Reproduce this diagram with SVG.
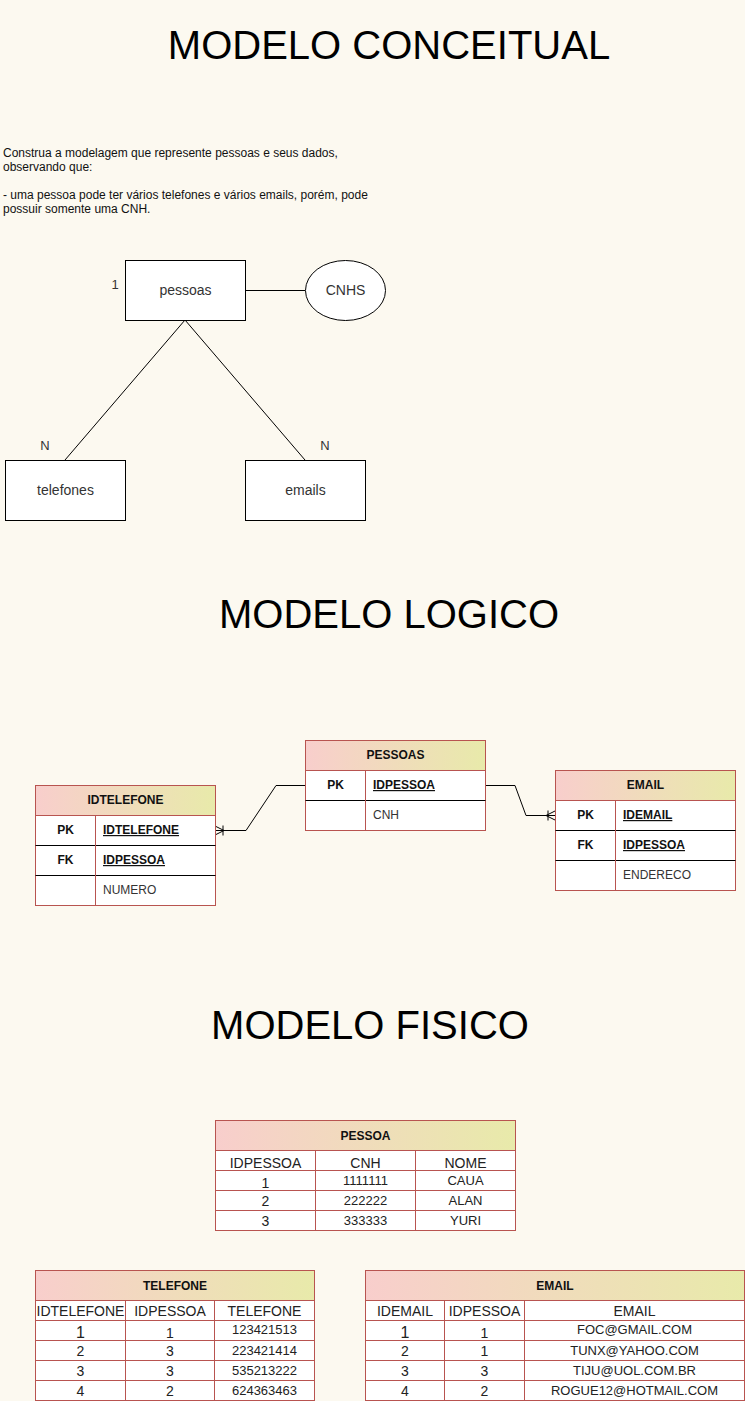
<svg xmlns="http://www.w3.org/2000/svg" width="745" height="1401" viewBox="0 0 745 1401">
<defs>
<linearGradient id="hdr" x1="0" y1="0" x2="1" y2="0"><stop offset="0" stop-color="#f8cecc"/><stop offset="1" stop-color="#e8eaaa"/></linearGradient>
<style>
text{font-family:"Liberation Sans",Arial,sans-serif}
.title{font-size:40px;fill:#000;text-anchor:middle}
.para{font-size:12px;fill:#111}
.ent{fill:#fff;stroke:#000;stroke-width:1}
.lbl{font-size:14px;fill:#333;text-anchor:middle}
.card{font-size:13px;fill:#333;text-anchor:middle}
.tb{fill:#fff;stroke:#b85450;stroke-width:1}
.hd{fill:url(#hdr);stroke:#b85450;stroke-width:1}
.ht{font-size:12px;font-weight:bold;fill:#111;text-anchor:middle}
.pk{font-size:12px;font-weight:bold;fill:#111;text-anchor:middle}
.key{font-size:12px;font-weight:bold;fill:#111;text-decoration:underline}
.fld{font-size:12px;fill:#333}
.sep{stroke:#000;stroke-width:1}
.col{stroke:#b85450;stroke-width:1}
.cell{font-size:13px;fill:#222;text-anchor:middle}
.ch{font-size:14px;fill:#222;text-anchor:middle}
.big{font-size:16px;fill:#222;text-anchor:middle}
.conn{fill:none;stroke:#000;stroke-width:1}
</style>
</defs>
<rect x="0" y="0" width="745" height="1401" fill="#fcf9f0"/>

<text class="title" x="389" y="59">MODELO CONCEITUAL</text>
<text class="title" x="389" y="628">MODELO LOGICO</text>
<text class="title" x="370" y="1039">MODELO FISICO</text>

<g id="enunciado">
<text class="para" x="3" y="157">Construa a modelagem que represente pessoas e seus dados,</text>
<text class="para" x="3" y="171">observando que:</text>
<text class="para" x="3" y="199">- uma pessoa pode ter vários telefones e vários emails, porém, pode</text>
<text class="para" x="3" y="213">possuir somente uma CNH.</text>
</g>

<g id="connectors">
<line class="conn" x1="245" y1="290.5" x2="305" y2="290.5"/>
<line class="conn" x1="185" y1="320" x2="65" y2="460"/>
<line class="conn" x1="185" y1="320" x2="305" y2="460"/>
<polyline class="conn" points="305,785.5 276,785.5 246,830.5 215,830.5"/>
<path class="conn" d="M215,826 L224,830.5 L215,835 M223,825.5 L223,835.5"/>
<polyline class="conn" points="485,785.5 515,785.5 526,815.5 555,815.5"/>
<path class="conn" d="M555,811 L546,815.5 L555,820 M548,810.5 L548,820.5"/>
</g>

<g id="pessoas">
<rect class="ent" x="125.5" y="260.5" width="120" height="60"/>
<text class="lbl" x="185.5" y="295">pessoas</text>
<text class="card" x="115" y="289">1</text>
</g>
<g id="cnhs">
<ellipse class="ent" cx="345.5" cy="290.5" rx="40" ry="30"/>
<text class="lbl" x="345.5" y="295">CNHS</text>
</g>
<g id="telefones">
<rect class="ent" x="5.5" y="460.5" width="120" height="60"/>
<text class="lbl" x="65.5" y="495">telefones</text>
<text class="card" x="45" y="450">N</text>
</g>
<g id="emails">
<rect class="ent" x="245.5" y="460.5" width="120" height="60"/>
<text class="lbl" x="305.5" y="495">emails</text>
<text class="card" x="325" y="450">N</text>
</g>

<g id="log-idtelefone">
<rect class="tb" x="35.5" y="785.5" width="180" height="120"/>
<rect class="hd" x="35.5" y="785.5" width="180" height="30"/>
<line class="sep" x1="35.5" y1="845.5" x2="215.5" y2="845.5"/>
<line class="sep" x1="35.5" y1="875.5" x2="215.5" y2="875.5"/>
<line class="col" x1="95.5" y1="815.5" x2="95.5" y2="905.5"/>
<text class="ht" x="125.5" y="804">IDTELEFONE</text>
<text class="pk" x="65.5" y="834">PK</text>
<text class="key" x="103" y="834">IDTELEFONE</text>
<text class="pk" x="65.5" y="864">FK</text>
<text class="key" x="103" y="864">IDPESSOA</text>
<text class="fld" x="103" y="894">NUMERO</text>
</g>

<g id="log-pessoas">
<rect class="tb" x="305.5" y="740.5" width="180" height="90"/>
<rect class="hd" x="305.5" y="740.5" width="180" height="30"/>
<line class="sep" x1="305.5" y1="800.5" x2="485.5" y2="800.5"/>
<line class="col" x1="365.5" y1="770.5" x2="365.5" y2="830.5"/>
<text class="ht" x="395.5" y="759">PESSOAS</text>
<text class="pk" x="335.5" y="789">PK</text>
<text class="key" x="373" y="789">IDPESSOA</text>
<text class="fld" x="373" y="819">CNH</text>
</g>

<g id="log-email">
<rect class="tb" x="555.5" y="770.5" width="180" height="120"/>
<rect class="hd" x="555.5" y="770.5" width="180" height="30"/>
<line class="sep" x1="555.5" y1="830.5" x2="735.5" y2="830.5"/>
<line class="sep" x1="555.5" y1="860.5" x2="735.5" y2="860.5"/>
<line class="col" x1="615.5" y1="800.5" x2="615.5" y2="890.5"/>
<text class="ht" x="645.5" y="789">EMAIL</text>
<text class="pk" x="585.5" y="819">PK</text>
<text class="key" x="623" y="819">IDEMAIL</text>
<text class="pk" x="585.5" y="849">FK</text>
<text class="key" x="623" y="849">IDPESSOA</text>
<text class="fld" x="623" y="879">ENDERECO</text>
</g>

<g id="fis-pessoa">
<rect class="tb" x="215.5" y="1120.5" width="300" height="110"/>
<rect class="hd" x="215.5" y="1120.5" width="300" height="30"/>
<line class="col" x1="215.5" y1="1170.5" x2="515.5" y2="1170.5"/>
<line class="col" x1="215.5" y1="1190.5" x2="515.5" y2="1190.5"/>
<line class="col" x1="215.5" y1="1210.5" x2="515.5" y2="1210.5"/>
<line class="col" x1="315.5" y1="1150.5" x2="315.5" y2="1230.5"/>
<line class="col" x1="415.5" y1="1150.5" x2="415.5" y2="1230.5"/>
<text class="ht" x="365.5" y="1140">PESSOA</text>
<text class="ch" x="265.5" y="1168">IDPESSOA</text>
<text class="ch" x="365.5" y="1168">CNH</text>
<text class="ch" x="465.5" y="1168">NOME</text>
<text class="ch" x="265.5" y="1188">1</text>
<text class="cell" x="365.5" y="1185">1111111</text>
<text class="cell" x="465.5" y="1185">CAUA</text>
<text class="ch" x="265.5" y="1206">2</text>
<text class="cell" x="365.5" y="1205">222222</text>
<text class="cell" x="465.5" y="1205">ALAN</text>
<text class="ch" x="265.5" y="1226">3</text>
<text class="cell" x="365.5" y="1225">333333</text>
<text class="cell" x="465.5" y="1225">YURI</text>
</g>

<g id="fis-telefone">
<rect class="tb" x="35.5" y="1270.5" width="279" height="130"/>
<rect class="hd" x="35.5" y="1270.5" width="279" height="30"/>
<line class="col" x1="35.5" y1="1320.5" x2="314.5" y2="1320.5"/>
<line class="col" x1="35.5" y1="1340.5" x2="314.5" y2="1340.5"/>
<line class="col" x1="35.5" y1="1360.5" x2="314.5" y2="1360.5"/>
<line class="col" x1="35.5" y1="1380.5" x2="314.5" y2="1380.5"/>
<line class="col" x1="125.5" y1="1300.5" x2="125.5" y2="1400.5"/>
<line class="col" x1="214.5" y1="1300.5" x2="214.5" y2="1400.5"/>
<text class="ht" x="175" y="1290">TELEFONE</text>
<text class="ch" x="80.5" y="1316">IDTELEFONE</text>
<text class="ch" x="170" y="1316">IDPESSOA</text>
<text class="ch" x="264.5" y="1316">TELEFONE</text>
<text class="big" x="80.5" y="1338">1</text>
<text class="ch" x="170" y="1338">1</text>
<text class="cell" x="264.5" y="1334">123421513</text>
<text class="ch" x="80.5" y="1356">2</text>
<text class="ch" x="170" y="1356">3</text>
<text class="cell" x="264.5" y="1355">223421414</text>
<text class="ch" x="80.5" y="1376">3</text>
<text class="ch" x="170" y="1376">3</text>
<text class="cell" x="264.5" y="1375">535213222</text>
<text class="ch" x="80.5" y="1396">4</text>
<text class="ch" x="170" y="1396">2</text>
<text class="cell" x="264.5" y="1395">624363463</text>
</g>

<g id="fis-email">
<rect class="tb" x="365.5" y="1270.5" width="379" height="130"/>
<rect class="hd" x="365.5" y="1270.5" width="379" height="30"/>
<line class="col" x1="365.5" y1="1320.5" x2="744.5" y2="1320.5"/>
<line class="col" x1="365.5" y1="1340.5" x2="744.5" y2="1340.5"/>
<line class="col" x1="365.5" y1="1360.5" x2="744.5" y2="1360.5"/>
<line class="col" x1="365.5" y1="1380.5" x2="744.5" y2="1380.5"/>
<line class="col" x1="444.5" y1="1300.5" x2="444.5" y2="1400.5"/>
<line class="col" x1="524.5" y1="1300.5" x2="524.5" y2="1400.5"/>
<text class="ht" x="555" y="1290">EMAIL</text>
<text class="ch" x="405" y="1316">IDEMAIL</text>
<text class="ch" x="484.5" y="1316">IDPESSOA</text>
<text class="ch" x="634.5" y="1316">EMAIL</text>
<text class="big" x="405" y="1338">1</text>
<text class="ch" x="484.5" y="1338">1</text>
<text class="cell" x="634.5" y="1334">FOC@GMAIL.COM</text>
<text class="ch" x="405" y="1356">2</text>
<text class="ch" x="484.5" y="1356">1</text>
<text class="cell" x="634.5" y="1355">TUNX@YAHOO.COM</text>
<text class="ch" x="405" y="1376">3</text>
<text class="ch" x="484.5" y="1376">3</text>
<text class="cell" x="634.5" y="1375">TIJU@UOL.COM.BR</text>
<text class="ch" x="405" y="1396">4</text>
<text class="ch" x="484.5" y="1396">2</text>
<text class="cell" x="634.5" y="1395">ROGUE12@HOTMAIL.COM</text>
</g>
</svg>
